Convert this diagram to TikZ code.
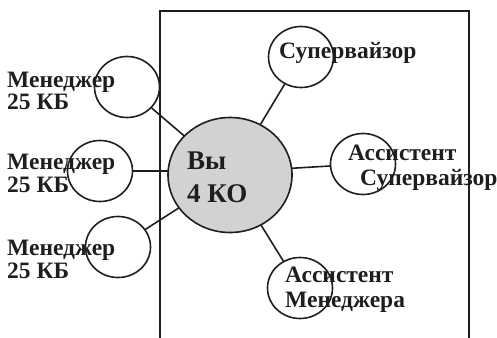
\documentclass[tikz,border=0pt]{standalone}
\usepackage{fontspec}
\setmainfont{Liberation Serif}
\usetikzlibrary{shapes.geometric}
\definecolor{ink}{HTML}{1E1E1E}
\definecolor{fillgray}{HTML}{D2D2D4}
\begin{document}
\begin{tikzpicture}[x=1pt,y=-1pt,
  every node/.style={inner sep=0pt},
  small/.style={draw=ink, line width=1.6pt, shape=ellipse, minimum width=65pt, minimum height=61pt},
  big/.style={draw=ink, line width=1.6pt, fill=fillgray, shape=ellipse, minimum width=124pt, minimum height=115pt},
  lbl/.style={anchor=base west, font=\fontsize{23.5}{28}\selectfont\bfseries, text=ink},
  biglbl/.style={anchor=base west, font=\fontsize{27}{32}\selectfont\bfseries, text=ink},
  conn/.style={draw=ink, line width=1.6pt},
  frame/.style={draw=ink, line width=1.9pt}
]
\useasboundingbox (0,0) rectangle (497,337);
% frame (open at the bottom)
\coordinate (fbl) at (160,340);
\coordinate (ftl) at (160,11);
\coordinate (ftr) at (469,11);
\coordinate (fbr) at (469,340);
\draw[frame] (fbl) -- (ftl) -- (ftr) -- (fbr);
% nodes
\node[small] (m1) at (127,87) {};
\node[small] (m2) at (100,171) {};
\node[small] (m3) at (118,247) {};
\node[small] (sup) at (301,57) {};
\node[small] (asup) at (363,164) {};
\node[small] (amgr) at (300,288) {};
\coordinate (yc) at (230,175);
\coordinate (ym2) at (230,171);
\coordinate (yas) at (230,172);
% connectors
\draw[conn] (m1) -- (yc);
\draw[conn] (m2) -- (ym2);
\draw[conn] (m3) -- (yc);
\draw[conn] (sup) -- (yc);
\draw[conn] (asup) -- (yas);
\draw[conn] (amgr) -- (yc);
\node[big] (you) at (yc) {};
% labels
\node[lbl] (m1a) at (7,87) {Менеджер};
\node[lbl] (m1b) at (7,109) {25 КБ};
\node[lbl] (m2a) at (7,169) {Менеджер};
\node[lbl] (m2b) at (7,192) {25 КБ};
\node[lbl] (m3a) at (7,255) {Менеджер};
\node[lbl] (m3b) at (7,278) {25 КБ};
\node[lbl] (supa) at (279,58) {Супервайзор};
\node[lbl] (asupa) at (348,160) {Ассистент};
\node[lbl] (asupb) at (360,185) {Супервайзор};
\node[lbl] (amgra) at (285,282) {Ассистент};
\node[lbl] (amgrb) at (285,307) {Менеджера};
\node[biglbl] (youa) at (187,169) {Вы};
\node[biglbl] (youb) at (187,202) {4 КО};
\end{tikzpicture}
\end{document}
